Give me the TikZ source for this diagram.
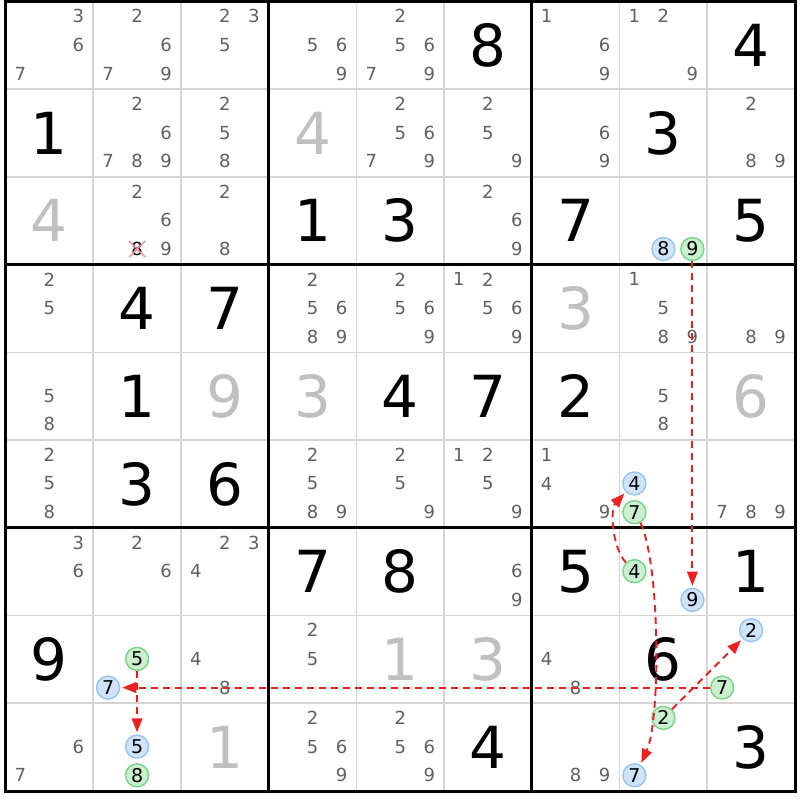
\documentclass[tikz,border=0pt]{standalone}
\usepackage{fontspec}
\setmainfont{DejaVu Sans}
\usetikzlibrary{arrows.meta}
\definecolor{candc}{RGB}{96,96,96}
\definecolor{solvc}{RGB}{192,192,192}
\definecolor{thinc}{RGB}{212,212,212}
\definecolor{bfill}{RGB}{207,228,250}
\definecolor{bline}{RGB}{150,196,240}
\definecolor{gfill}{RGB}{202,240,208}
\definecolor{gline}{RGB}{120,210,135}
\definecolor{arrc}{RGB}{236,32,32}
\definecolor{xc}{RGB}{240,140,150}
\begin{document}
\begin{tikzpicture}[x=1pt,y=-1pt,
  cand/.style={inner sep=0pt, text=candc, font=\fontsize{18}{20}\selectfont},
  big/.style={inner sep=0pt, font=\fontsize{58}{60}\selectfont},
  circb/.style={circle, inner sep=0pt, minimum size=23pt, fill=bfill, draw=bline, line width=1.4pt, text=black, font=\fontsize{19}{20}\selectfont},
  circg/.style={circle, inner sep=0pt, minimum size=23pt, fill=gfill, draw=gline, line width=1.4pt, text=black, font=\fontsize{19}{20}\selectfont},
  thinline/.style={draw=thinc, line width=1.6pt},
  thickline/.style={draw=black, line width=3pt},
  link/.style={draw=arrc, line width=1.9pt, dash pattern=on 7pt off 5pt, -{Triangle[length=14pt,width=10.5pt]}, shorten >=2pt},
  xmark/.style={draw=xc, line width=1.5pt}
]
\useasboundingbox (0,0) rectangle (800,800);
\fill[white] (0,0) rectangle (800,800);
% thin grid
\foreach \i in {1,2,4,5,7,8}{
  \draw[thinline] (5.5+\i*87.72,1.5) -- (5.5+\i*87.72,791);
  \draw[thinline] (5.5,1.5+\i*87.72) -- (795,1.5+\i*87.72);
}
\foreach \i in {3,6}{
  \draw[thickline] (5.5+\i*87.72,1.5) -- (5.5+\i*87.72,791);
  \draw[thickline] (5.5,1.5+\i*87.72) -- (795,1.5+\i*87.72);
}
\draw[thickline] (5.5,1.5) rectangle (795,791);
% given digits
\foreach \r/\c/\d in {0/5/8,0/8/4,1/0/1,1/7/3,2/3/1,2/4/3,2/6/7,2/8/5,3/1/4,3/2/7,4/1/1,4/4/4,4/5/7,4/6/2,5/1/3,5/2/6,6/3/7,6/4/8,6/6/5,6/8/1,7/0/9,7/7/6,8/5/4,8/8/3}{
  \node[big] (v\r\c) at (5.5+\c*87.72+43.86, 1.5+\r*87.72+43.86) {\d};
}
% solved digits
\foreach \r/\c/\d in {1/3/4,2/0/4,3/6/3,4/2/9,4/3/3,4/8/6,7/4/1,7/5/3,8/2/1}{
  \node[big, text=solvc] (v\r\c) at (5.5+\c*87.72+43.86, 1.5+\r*87.72+43.86) {\d};
}
% candidates
\foreach \r/\c/\lst in {0/0/{3,6,7},0/1/{2,6,7,9},0/2/{2,3,5},0/3/{5,6,9},0/4/{2,5,6,7,9},0/6/{1,6,9},0/7/{1,2,9},
  1/1/{2,6,7,8,9},1/2/{2,5,8},1/4/{2,5,6,7,9},1/5/{2,5,9},1/6/{6,9},1/8/{2,8,9},
  2/1/{2,6,9},2/2/{2,8},2/5/{2,6,9},
  3/0/{2,5},3/3/{2,5,6,8,9},3/4/{2,5,6,9},3/5/{1,2,5,6,9},3/7/{1,5,8,9},3/8/{8,9},
  4/0/{5,8},4/7/{5,8},
  5/0/{2,5,8},5/3/{2,5,8,9},5/4/{2,5,9},5/5/{1,2,5,9},5/6/{1,4,9},5/8/{7,8,9},
  6/0/{3,6},6/1/{2,6},6/2/{2,3,4},6/5/{6,9},
  7/2/{4,8},7/3/{2,5},7/6/{4,8},
  8/0/{6,7},8/3/{2,5,6,9},8/4/{2,5,6,9},8/6/{8,9}}{
  \foreach \d in \lst {
    \pgfmathsetmacro\px{5.5+\c*87.72+43.86+(mod(\d-1,3)-1)*29}
    \pgfmathsetmacro\py{1.5+\r*87.72+43.36+(floor((\d-1)/3)-1)*28.7}
    \node[cand] (n\r\c\d) at (\px,\py) {\d};
  }
}
% eliminated candidate
\node[inner sep=0pt, font=\fontsize{18}{20}\selectfont] (x218) at (5.5+1*87.72+43.86, 1.5+2*87.72+43.36+28.7) {8};
\draw[xmark] ([shift={(-8,-8)}]x218.center) -- ([shift={(8,8)}]x218.center);
\draw[xmark] ([shift={(-8,8)}]x218.center) -- ([shift={(8,-8)}]x218.center);
% blue circled candidates
\foreach \r/\c/\d in {2/7/8,5/7/4,6/7/9,7/1/7,7/8/2,8/1/5,8/7/7}{
  \pgfmathsetmacro\px{5.5+\c*87.72+43.86+(mod(\d-1,3)-1)*29}
  \pgfmathsetmacro\py{1.5+\r*87.72+43.36+(floor((\d-1)/3)-1)*28.7}
  \node[circb] (b\r\c\d) at (\px,\py) {\d};
}
% green circled candidates
\foreach \r/\c/\d in {2/7/9,5/7/7,6/7/4,7/1/5,7/8/7,8/1/8,8/7/2}{
  \pgfmathsetmacro\px{5.5+\c*87.72+43.86+(mod(\d-1,3)-1)*29}
  \pgfmathsetmacro\py{1.5+\r*87.72+43.36+(floor((\d-1)/3)-1)*28.7}
  \node[circg] (g\r\c\d) at (\px,\py) {\d};
}
% links
\draw[link] (g279) -- (b679);
\draw[link] (g577.-60) .. controls +(20,43) and +(20,-45) .. (b877.60);
\draw[link] (g674.135) .. controls +(-15,-18) and +(-15,16) .. (b574.-135);
\draw[link] (g787) -- (b717);
\draw[link] (g872) -- (b782);
\draw[link] (g715) -- (b815);
\end{tikzpicture}
\end{document}
